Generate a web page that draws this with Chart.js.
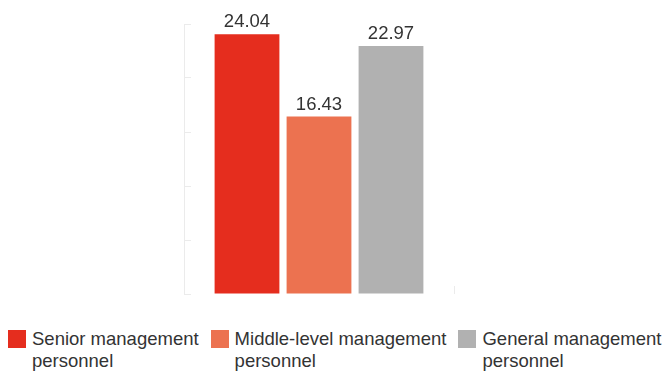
<!DOCTYPE html>
<html>
<head>
<meta charset="utf-8">
<title>Management personnel</title>
<script src="https://cdn.jsdelivr.net/npm/chart.js@4/dist/chart.umd.min.js"></script>
<style>
  html, body { margin: 0; padding: 0; background: #fff; }
  #wrap { position: relative; width: 663px; height: 372px; overflow: hidden; }
  #chartBox { position: absolute; left: 0; top: 0; width: 663px; height: 310px; }
  #legend {
    position: absolute; left: 8px; top: 328px; display: flex; gap: 12px;
    white-space: nowrap; font-family: "Liberation Sans", Arial, sans-serif;
    font-size: 18.5px; line-height: 22px; color: #333;
  }
  .item { display: flex; align-items: flex-start; }
  .swatch { width: 18px; height: 18px; margin-top: 2px; margin-right: 6px; flex: none; }
</style>
</head>
<body>
<div id="wrap">
  <div id="chartBox"><canvas id="chart"></canvas></div>
  <div id="legend"></div>
</div>
<script>
// Values
const categories = [''];
const seriesNames = [
  ['Senior management', 'personnel'],
  ['Middle-level management', 'personnel'],
  ['General management', 'personnel']
];
const seriesValues = [24.04, 16.43, 22.97];
const seriesColors = ['#e52d1e', '#ec7250', '#b1b1b1'];
const yMin = 0;
const yMax = 25;
const yStep = 5;

const fontFamily = '"Liberation Sans", Arial, sans-serif';
const faint = '#ebebeb';

function el(id) { return document.getElementById(id); }

// value labels above each bar
const valueLabels = {
  id: 'valueLabels',
  afterDatasetsDraw(chart) {
    const ctx = chart.ctx;
    ctx.save();
    ctx.font = `18.5px ${fontFamily}`;
    ctx.fillStyle = '#333';
    ctx.textAlign = 'center';
    ctx.textBaseline = 'alphabetic';
    chart.data.datasets.forEach((ds, i) => {
      const meta = chart.getDatasetMeta(i);
      meta.data.forEach((bar, j) => {
        ctx.fillText(ds.data[j].toFixed(2), bar.x, bar.y - 7);
      });
    });
    ctx.restore();
  }
};

const datasets = seriesNames.map((name, i) => ({
  label: name.join(' '),
  data: [seriesValues[i]],
  backgroundColor: seriesColors[i],
  borderWidth: 0
}));

const chart = new Chart(el('chart'), {
  type: 'bar',
  data: { labels: categories, datasets },
  options: {
    responsive: true,
    maintainAspectRatio: false,
    animation: false,
    layout: { padding: { left: 184, right: 209, top: 24, bottom: 0 } },
    plugins: { legend: { display: false }, tooltip: { enabled: false } },
    scales: {
      x: {
        grid: { drawOnChartArea: false, drawTicks: true, tickLength: -8, color: faint },
        border: { display: false },
        ticks: { display: false },
        afterFit: s => { s.height = 16; }
      },
      y: {
        min: yMin,
        max: yMax,
        ticks: { display: false, stepSize: yStep },
        grid: { drawOnChartArea: false, drawTicks: true, tickLength: -7, color: faint },
        border: { display: true, color: faint },
        afterFit: s => { s.width = 0; }
      }
    }
  },
  plugins: [valueLabels]
});

// legend built from the chart's datasets (two-line labels)
el('legend').innerHTML = chart.data.datasets.map((ds, i) =>
  `<div class="item"><span class="swatch" style="background:${ds.backgroundColor}"></span>` +
  `<span>${seriesNames[i].join('<br>')}</span></div>`
).join('');
</script>
</body>
</html>
